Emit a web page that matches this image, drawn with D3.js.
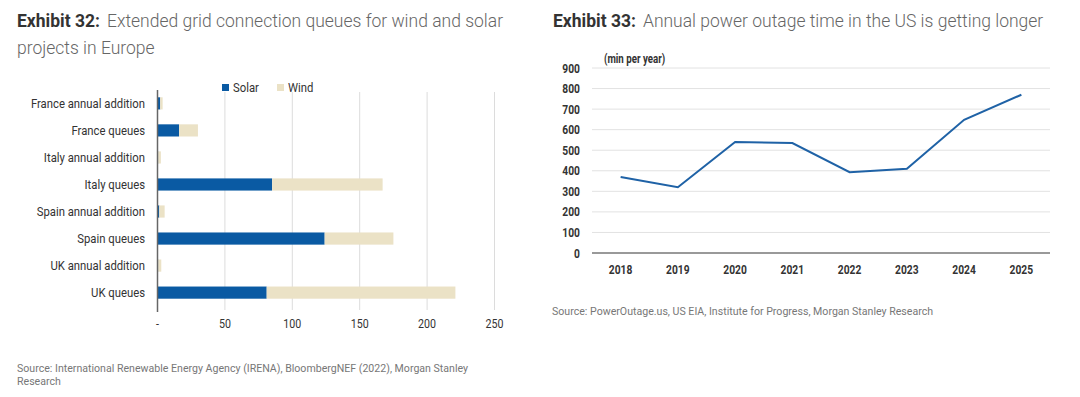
<!DOCTYPE html>
<html>
<head>
<meta charset="utf-8">
<script src="https://cdn.jsdelivr.net/npm/d3@7"></script>
<style>
  body { margin: 0; background: #fff; }
  svg { display: block; }
  .title { font-family: Roboto, "Open Sans", sans-serif; font-size: 17.5px; fill: #666; font-weight: 300; }
  .title .ex { font-weight: 700; fill: #333; }
  .narrow { font-family: Roboto, "Liberation Sans", sans-serif; fill: #333; }
  .src { font-family: Roboto, sans-serif; font-size: 10.6px; fill: #777; }
</style>
</head>
<body>
<svg id="chart" width="1080" height="397"></svg>
<script>
// ---- left chart data (GW) ----
let categories = ["France annual addition", "France queues", "Italy annual addition", "Italy queues",
                  "Spain annual addition", "Spain queues", "UK annual addition", "UK queues"]
let solar = [2, 16, 0.5, 85, 1.3, 124, 0.5, 81]
let wind = [1.8, 14, 2, 82, 4, 51, 2.3, 140]
let barTicks = [0, 50, 100, 150, 200, 250]

// ---- right chart data (min per year) ----
let years = ["2018", "2019", "2020", "2021", "2022", "2023", "2024", "2025"]
let outage = [370, 320, 540, 535, 393, 410, 648, 770]
let outageTicks = [0, 100, 200, 300, 400, 500, 600, 700, 800, 900]

let svg = d3.select("#chart")

// the original uses a condensed face, so squeeze text horizontally
let squeeze = (sel, s) => {
    sel.each(function() {
        let t = d3.select(this)
        let x = +t.attr("x"), y = +t.attr("y")
        t.attr("x", 0).attr("y", 0)
         .attr("transform", "translate(" + x + "," + y + ") scale(" + s + ",1)")
    })
}

// titles
let t1 = svg.append("text").attr("class", "title").attr("x", 17).attr("y", 27)
t1.append("tspan").attr("class", "ex").text("Exhibit 32:")
t1.append("tspan").attr("dx", 7).text("Extended grid connection queues for wind and solar")
svg.append("text").attr("class", "title").attr("x", 17).attr("y", 54).text("projects in Europe")

let t2 = svg.append("text").attr("class", "title").attr("x", 553).attr("y", 27)
t2.append("tspan").attr("class", "ex").text("Exhibit 33:")
t2.append("tspan").attr("dx", 7).text("Annual power outage time in the US is getting longer")

// ================= stacked bars =================
let makeBars = () => {
    let x = d3.scaleLinear().domain([0, 250]).range([157.5, 494.5])
    let y = d3.scaleBand().domain(categories).range([90, 306]).paddingInner(0.55).paddingOuter(0.27)
    let g = svg.append("g")

    // gridlines
    g.selectAll(".grid").data(barTicks.slice(1)).enter().append("line")
        .attr("x1", d => x(d)).attr("x2", d => x(d))
        .attr("y1", 92).attr("y2", 310)
        .attr("stroke", "#dcdcdc").attr("stroke-width", 1)

    let rows = categories.map((c, i) => ({ cat: c, solar: solar[i], wind: wind[i] }))
    let stack = d3.stack().keys(["solar", "wind"])(rows)
    let color = d3.scaleOrdinal(["solar", "wind"], ["#0a5aa3", "#ebe2c6"])

    g.selectAll(".layer").data(stack).enter().append("g")
        .attr("fill", d => color(d.key))
        .selectAll("rect").data(d => d).enter().append("rect")
        .attr("x", d => x(d[0]))
        .attr("width", d => x(d[1]) - x(d[0]))
        .attr("y", d => y(d.data.cat))
        .attr("height", y.bandwidth())

    // axis line at zero
    g.append("line").attr("x1", x(0)).attr("x2", x(0)).attr("y1", 90).attr("y2", 312)
        .attr("stroke", "#666").attr("stroke-width", 1.5)

    // category labels
    g.selectAll(".cat").data(categories).enter().append("text")
        .attr("class", "narrow")
        .attr("x", 145).attr("y", d => y(d) + y.bandwidth() / 2 + 4.5)
        .attr("text-anchor", "end")
        .style("font-size", "13px")
        .text(d => d)
        .call(squeeze, 0.87)

    // tick labels
    g.selectAll(".tick").data(barTicks).enter().append("text")
        .attr("class", "narrow")
        .attr("x", d => x(d)).attr("y", 328).attr("text-anchor", "middle")
        .style("font-size", "13px")
        .text(d => d === 0 ? "-" : d)
        .call(squeeze, 0.82)

    // legend
    let legend = [{ k: "solar", t: "Solar", x: 222 }, { k: "wind", t: "Wind", x: 277 }]
    let lg = g.selectAll(".lg").data(legend).enter().append("g")
    lg.append("rect").attr("x", d => d.x).attr("y", 84).attr("width", 7).attr("height", 7)
        .attr("fill", d => color(d.k))
    lg.append("text").attr("class", "narrow").attr("x", d => d.x + 11).attr("y", 92)
        .style("font-size", "13px").text(d => d.t)
        .call(squeeze, 0.87)
}

// ================= line chart =================
let makeLine = () => {
    let x = d3.scalePoint().domain(years).range([592, 1050]).padding(0.5)
    let y = d3.scaleLinear().domain([0, 900]).range([253, 68])
    let g = svg.append("g")

    g.selectAll(".grid").data(outageTicks.slice(1)).enter().append("line")
        .attr("x1", 592).attr("x2", 1050)
        .attr("y1", d => y(d)).attr("y2", d => y(d))
        .attr("stroke", "#e2e2e2").attr("stroke-width", 1)

    g.append("line").attr("x1", 592).attr("x2", 1050).attr("y1", y(0)).attr("y2", y(0))
        .attr("stroke", "#777").attr("stroke-width", 1.5)

    g.selectAll(".yl").data(outageTicks).enter().append("text")
        .attr("class", "narrow")
        .attr("x", 580).attr("y", d => y(d) + 4.5).attr("text-anchor", "end")
        .style("font-size", "13.5px").style("font-weight", "bold")
        .text(d => d)
        .call(squeeze, 0.76)

    g.selectAll(".xl").data(years).enter().append("text")
        .attr("class", "narrow")
        .attr("x", d => x(d)).attr("y", 274).attr("text-anchor", "middle")
        .style("font-size", "13.5px").style("font-weight", "bold")
        .text(d => d)
        .call(squeeze, 0.76)

    g.append("text").attr("class", "narrow").attr("x", 604).attr("y", 63)
        .style("font-size", "12px").style("font-weight", "bold")
        .text("(min per year)")
        .call(squeeze, 0.81)

    let line = d3.line().x((d, i) => x(years[i])).y(d => y(d))
    g.append("path").datum(outage).attr("d", line)
        .attr("fill", "none").attr("stroke", "#1f62a6").attr("stroke-width", 2)
}

makeBars()
makeLine()

// sources
svg.append("text").attr("class", "src").attr("x", 17).attr("y", 372)
    .text("Source: International Renewable Energy Agency (IRENA), BloombergNEF (2022), Morgan Stanley")
svg.append("text").attr("class", "src").attr("x", 17).attr("y", 385).text("Research")
svg.append("text").attr("class", "src").attr("x", 552).attr("y", 315)
    .text("Source: PowerOutage.us, US EIA, Institute for Progress, Morgan Stanley Research")
</script>
</body>
</html>
